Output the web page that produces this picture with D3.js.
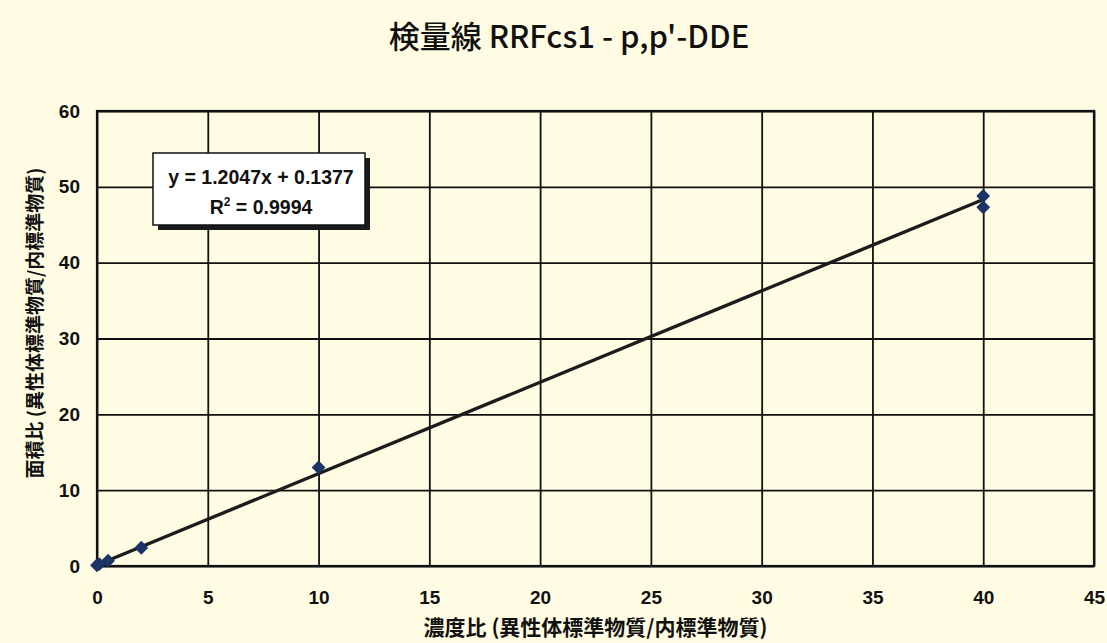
<!DOCTYPE html>
<html>
<head>
<meta charset="utf-8">
<script src="https://cdn.jsdelivr.net/npm/d3@7"></script>
<style>
  body { margin: 0; background: #fffce3; }
  svg { display: block; }
</style>
</head>
<body>
<svg id="chart" width="1107" height="643"></svg>
<script>
var width = 1107;
var height = 643;
var margin = { top: 111, right: 13, bottom: 77, left: 97 };

// concentration ratio (x) and area ratio (y)
var concRatio = [0, 0.1, 0.5, 2, 10, 40, 40];
var areaRatio = [0.1, 0.25, 0.7, 2.4, 13.0, 48.8, 47.3];
var xTicks = [0, 5, 10, 15, 20, 25, 30, 35, 40, 45];
var yTicks = [0, 10, 20, 30, 40, 50, 60];
var slope = 1.2047, intercept = 0.1377;
var eqLines = ["y = 1.2047x + 0.1377", "R2 = 0.9994"];

var plotW = width - margin.left - margin.right;
var plotH = height - margin.top - margin.bottom;

var svg = d3.select("#chart");
svg.append("rect").attr("width", width).attr("height", height).attr("fill", "#fffce3");

var g = svg.append("g")
  .attr("transform", "translate(" + margin.left + "," + margin.top + ")");

var x = d3.scaleLinear().domain([0, 45]).range([0, plotW]);
var y = d3.scaleLinear().domain([0, 60]).range([plotH, 0]);

// grid lines
g.append("g")
  .call(d3.axisBottom(x).tickValues(xTicks).tickSize(plotH).tickFormat(""))
  .call(s => s.select(".domain").remove())
  .selectAll("line").attr("stroke", "#111").attr("stroke-width", 1.8);

g.append("g")
  .call(d3.axisLeft(y).tickValues(yTicks).tickSize(-plotW).tickFormat(""))
  .call(s => s.select(".domain").remove())
  .selectAll("line").attr("stroke", "#111").attr("stroke-width", 1.8);

// plot border
g.append("rect")
  .attr("width", plotW).attr("height", plotH)
  .attr("fill", "none").attr("stroke", "#111").attr("stroke-width", 2.2);

// tick labels
var xAxis = g.append("g")
  .attr("transform", "translate(0," + plotH + ")")
  .call(d3.axisBottom(x).tickValues(xTicks).tickSize(0).tickPadding(25));
xAxis.select(".domain").remove();
xAxis.selectAll("text")
  .attr("font-family", "'Liberation Sans', Arial, sans-serif")
  .attr("font-weight", "bold").attr("font-size", 19).attr("fill", "#111");

var yAxis = g.append("g")
  .call(d3.axisLeft(y).tickValues(yTicks).tickSize(0).tickPadding(17));
yAxis.select(".domain").remove();
yAxis.selectAll("text")
  .attr("font-family", "'Liberation Sans', Arial, sans-serif")
  .attr("font-weight", "bold").attr("font-size", 19).attr("fill", "#111");

// trend line
var xs = [0, d3.max(concRatio)];
g.append("line")
  .attr("x1", x(xs[0])).attr("y1", y(slope * xs[0] + intercept))
  .attr("x2", x(xs[1])).attr("y2", y(slope * xs[1] + intercept))
  .attr("stroke", "#1c1c1c").attr("stroke-width", 3.4);

// markers (diamonds)
var diamond = d3.symbol().type(d3.symbolSquare).size(70);
g.selectAll(".pt")
  .data(concRatio.map((c, i) => ({ c: c, a: areaRatio[i] })))
  .enter().append("path")
  .attr("class", "pt")
  .attr("d", diamond)
  .attr("transform", d => "translate(" + x(d.c) + "," + y(d.a) + ") rotate(45)")
  .attr("fill", "#1d3466").attr("stroke", "#1d3466").attr("stroke-width", 1.5)
  .attr("stroke-linejoin", "round");

// equation box
var box = svg.append("g").attr("transform", "translate(153,153)");
box.append("rect").attr("x", 5).attr("y", 5).attr("width", 212).attr("height", 72).attr("fill", "#1a1a1a");
box.append("rect").attr("width", 212).attr("height", 72)
  .attr("fill", "#ffffff").attr("stroke", "#111").attr("stroke-width", 1.5);
box.append("text")
  .attr("x", 108).attr("y", 31).attr("text-anchor", "middle")
  .attr("font-family", "'Liberation Sans', Arial, sans-serif")
  .attr("font-weight", "bold").attr("font-size", 19.5).attr("fill", "#111")
  .text(eqLines[0]);
var r2 = box.append("text")
  .attr("x", 108).attr("y", 61).attr("text-anchor", "middle")
  .attr("font-family", "'Liberation Sans', Arial, sans-serif")
  .attr("font-weight", "bold").attr("font-size", 19.5).attr("fill", "#111");
r2.append("tspan").text("R");
r2.append("tspan").attr("dy", -8).attr("font-size", 12).text("2");
r2.append("tspan").attr("dy", 8).text(" = 0.9994");

// title
svg.append("text")
  .attr("x", 569).attr("y", 48).attr("text-anchor", "middle")
  .attr("font-family", "'Noto Sans CJK JP', sans-serif")
  .attr("font-weight", 500).attr("font-size", 31).attr("fill", "#111")
  .text("検量線 RRFcs1 - p,p'-DDE");

// axis titles
svg.append("text")
  .attr("x", margin.left + plotW / 2).attr("y", 635).attr("text-anchor", "middle")
  .attr("font-family", "'Noto Sans CJK JP', sans-serif")
  .attr("font-weight", "bold").attr("font-size", 21).attr("fill", "#111")
  .text("濃度比 (異性体標準物質/内標準物質)");

svg.append("text")
  .attr("transform", "translate(42,323) rotate(-90)")
  .attr("text-anchor", "middle")
  .attr("font-family", "'Noto Sans CJK JP', sans-serif")
  .attr("font-weight", "bold").attr("font-size", 19).attr("fill", "#111")
  .text("面積比 (異性体標準物質/内標準物質)");
</script>
</body>
</html>
